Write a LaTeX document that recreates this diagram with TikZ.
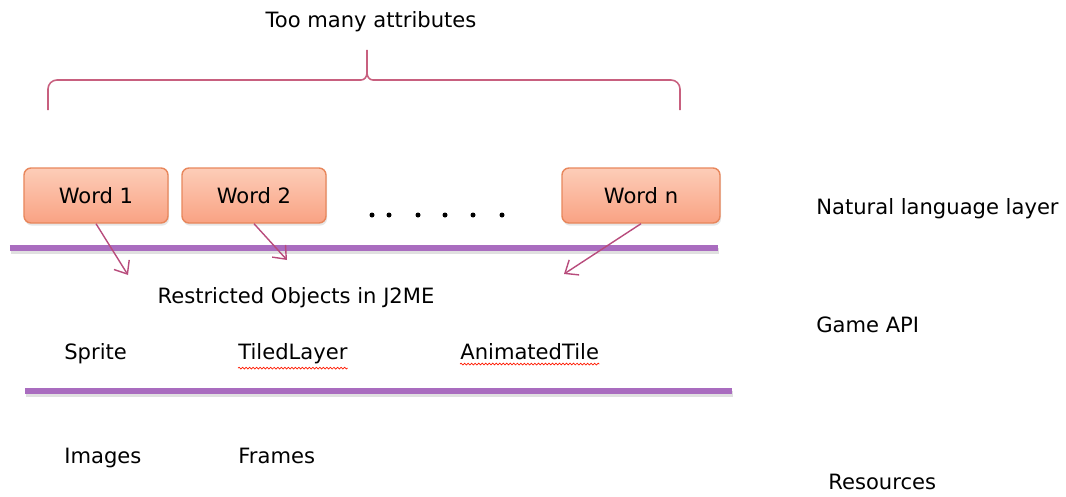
\documentclass[tikz,border=0pt]{standalone}
\usepackage{fontspec}
\setmainfont{DejaVu Sans}
\usetikzlibrary{arrows.meta,shadows,decorations.pathmorphing}
\definecolor{wordtop}{HTML}{FDCDB8}
\definecolor{wordbot}{HTML}{F9A283}
\definecolor{wordline}{HTML}{E8875C}
\definecolor{layerpurple}{HTML}{A96CBF}
\definecolor{arrowred}{HTML}{B84C7C}
\definecolor{bracered}{HTML}{C8607F}
\newcommand\lblfont{\fontsize{12}{14}\selectfont}
\begin{document}
\begin{tikzpicture}[
  word/.style={rectangle, draw=wordline, line width=0.8pt, rounded corners=4pt,
               top color=wordtop, bottom color=wordbot, minimum height=1.1cm,
               minimum width=#1, font=\lblfont,
               drop shadow={opacity=0.2, shadow xshift=0.6pt, shadow yshift=-1.5pt}},
  word/.default={2.88cm},
  lbl/.style={inner sep=0pt, font=\lblfont},
  layer/.style={line width=3.2pt, draw=layerpurple},
  layershadow/.style={line width=3.2pt, draw=black, opacity=0.12},
  arr/.style={-{Straight Barb[length=2.2mm,width=3.6mm]}, draw=arrowred, line width=0.8pt},
  brace/.style={draw=bracered, line width=0.9pt},
  squiggle/.style={draw=red!80!orange, line width=0.4pt,
                   decorate, decoration={snake, amplitude=0.5pt, segment length=2pt}}
]
  \useasboundingbox (0,0) rectangle (21.32,9.92);

  % Accolade
  \node[lbl] (many) at (7.42,9.48) {Too many attributes};
  \draw[brace] (0.96,7.72) -- (0.96,8.14) to[out=90,in=180] (1.14,8.32)
    -- (7.22,8.32) to[out=0,in=-90] (7.34,8.46) -- (7.34,8.92);
  \draw[brace] (13.6,7.72) -- (13.6,8.14) to[out=90,in=0] (13.42,8.32)
    -- (7.46,8.32) to[out=180,in=-90] (7.34,8.46);

  % Mots
  \node[word] (w1) at (1.92,6.01) {Word 1};
  \node[word] (w2) at (5.08,6.01) {Word 2};
  \node[word=3.16cm] (wn) at (12.82,6.01) {Word n};
  \foreach \x in {7.44,7.78,8.36,8.9,9.46,10.04}
    \fill (\x,5.62) circle (0.05);

  % Couche 1
  \draw[layershadow] (0.22,4.9) -- (14.38,4.9);
  \draw[layer] (0.2,4.96) -- (14.36,4.96);

  % Fleches
  \coordinate (e1) at (2.56,4.42);
  \coordinate (e2) at (5.74,4.72);
  \coordinate (en) at (11.28,4.44);
  \draw[arr] (w1.south) -- (e1);
  \draw[arr] (w2.south) -- (e2);
  \draw[arr] (wn.south) -- (en);

  % Objets
  \node[lbl] (restr) at (5.92,3.96) {Restricted Objects in J2ME};
  \node[lbl, anchor=base west] (sprite) at (1.28,2.74) {Sprite};
  \node[lbl, anchor=base west] (tiled) at (4.76,2.74) {TiledLayer};
  \node[lbl, anchor=base west] (anim) at (9.2,2.74) {AnimatedTile};
  \draw[squiggle] ([yshift=-2.5pt]tiled.south west) -- ([yshift=-2.5pt]tiled.south east);
  \draw[squiggle] ([yshift=-2.5pt]anim.south west) -- ([yshift=-2.5pt]anim.south east);

  % Couche 2
  \draw[layershadow] (0.52,2.04) -- (14.66,2.04);
  \draw[layer] (0.5,2.1) -- (14.64,2.1);

  % Ressources
  \node[lbl, anchor=base west] (images) at (1.28,0.66) {Images};
  \node[lbl, anchor=base west] (frames) at (4.76,0.66) {Frames};

  % Couches
  \node[lbl, anchor=base west] (nat) at (16.32,5.64) {Natural language layer};
  \node[lbl, anchor=base west] (api) at (16.32,3.28) {Game API};
  \node[lbl, anchor=base west] (res) at (16.56,0.14) {Resources};
\end{tikzpicture}
\end{document}
